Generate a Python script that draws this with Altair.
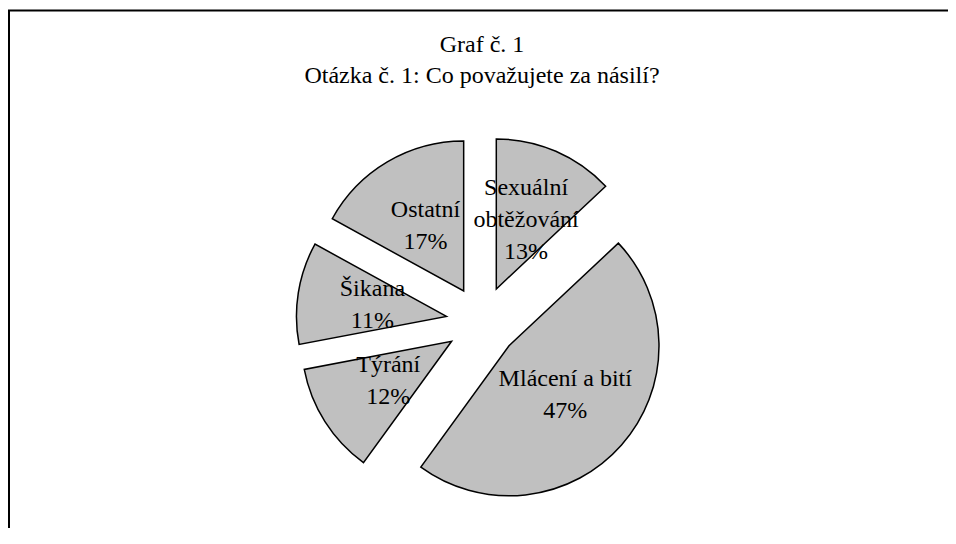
import altair as alt
import pandas as pd

# ---- data ----
categories = ["Sexuální obtěžování", "Mlácení a bití", "Týrání", "Šikana", "Ostatní"]
label_names = ["Sexuální\nobtěžování", "Mlácení a bití", "Týrání", "Šikana", "Ostatní"]
values = [13, 47, 12, 11, 17]
title_lines = ["Graf č. 1", "Otázka č. 1: Co považujete za násilí?"]

# ---- layout / style ----
W, H = 940, 520
CX, CY = 474, 314
R_PIE = 150
EXPLODE = 36
R_LABEL = 111
FONT = "Liberation Serif"
FS = 24
LH = 32

df = pd.DataFrame({
    "category": categories,
    "name": label_names,
    "value": values,
    "order": list(range(len(values))),
})

base = (
    alt.Chart(df)
    .transform_joinaggregate(total="sum(value)")
    .transform_window(cum="sum(value)", sort=[alt.SortField("order")], frame=[None, 0])
    .transform_calculate(end="datum.cum / datum.total * 2 * PI")
    .transform_calculate(start="(datum.cum - datum.value) / datum.total * 2 * PI")
    .transform_calculate(mid="(datum.start + datum.end) / 2")
    .transform_calculate(cx=f"{CX} + {EXPLODE} * sin(datum.mid)")
    .transform_calculate(cy=f"{CY} - {EXPLODE} * cos(datum.mid)")
    .transform_calculate(label="datum.name + '\\n' + format(datum.value / datum.total, '.0%')")
    .transform_calculate(nlines="length(split(datum.label, '\\n'))")
    .transform_calculate(lx=f"{CX} + {R_LABEL} * sin(datum.mid)")
    .transform_calculate(ly=f"{CY} - {R_LABEL} * cos(datum.mid) - (datum.nlines - 1) * {LH} / 2")
)

arcs = base.mark_arc(
    outerRadius=R_PIE, fill="#C0C0C0", stroke="black", strokeWidth=1.5
).encode(
    theta=alt.Theta("start:Q", scale=None, stack=None),
    theta2="end:Q",
    x=alt.X("cx:Q", scale=None, axis=None),
    y=alt.Y("cy:Q", scale=None, axis=None),
)

labels = base.mark_text(
    font=FONT, fontSize=FS, lineBreak="\n", lineHeight=LH,
    align="center", baseline="middle", color="black",
).encode(
    text="label:N",
    x=alt.X("lx:Q", scale=None, axis=None),
    y=alt.Y("ly:Q", scale=None, axis=None),
)

one = pd.DataFrame({"a": [0]})
top_rule = alt.Chart(one).mark_rule(color="black", strokeWidth=2).encode(
    x=alt.value(0), x2=alt.value(W), y=alt.value(2.5)
)
left_rule = alt.Chart(one).mark_rule(color="black", strokeWidth=2).encode(
    x=alt.value(1), y=alt.value(2.5), y2=alt.value(H)
)

t1 = alt.Chart(pd.DataFrame({"t": [title_lines[0]]})).mark_text(
    font=FONT, fontSize=FS, align="center", baseline="alphabetic", color="black"
).encode(text="t:N", x=alt.value(CX), y=alt.value(44))
t2 = alt.Chart(pd.DataFrame({"t": [title_lines[1]]})).mark_text(
    font=FONT, fontSize=FS, align="center", baseline="alphabetic", color="black"
).encode(text="t:N", x=alt.value(CX), y=alt.value(75))

chart = (
    alt.layer(top_rule, left_rule, arcs, labels, t1, t2)
    .properties(width=W, height=H, padding=0, autosize=alt.AutoSizeParams(type="none"))
    .configure_view(stroke=None)
)

chart.save("out.html", embed_options={"renderer": "svg", "actions": False})
